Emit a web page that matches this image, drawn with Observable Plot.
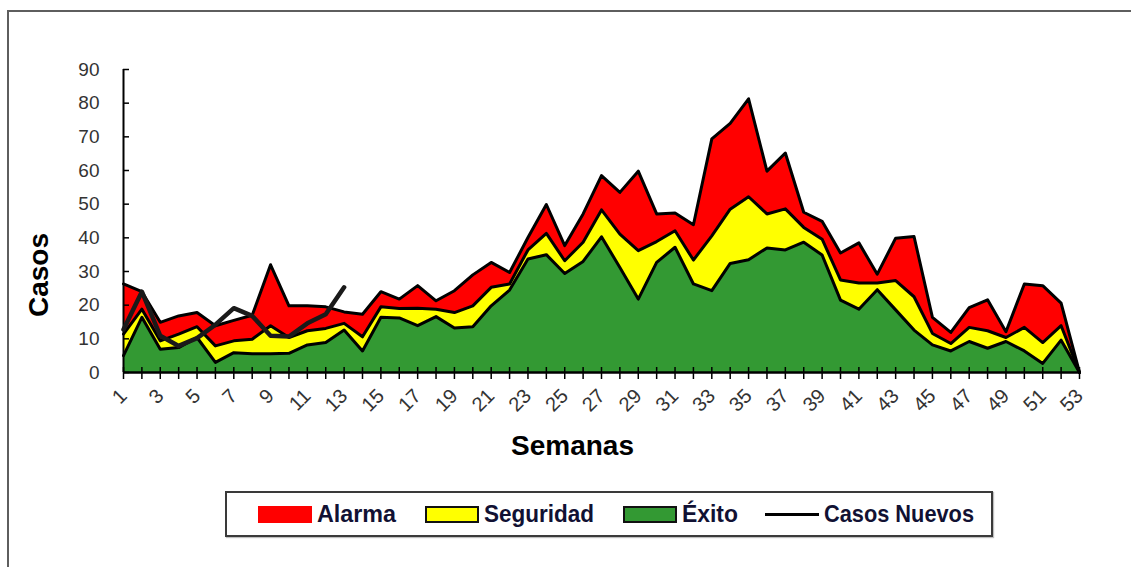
<!DOCTYPE html>
<html>
<head>
<meta charset="utf-8">
<script src="https://cdn.jsdelivr.net/npm/d3@7"></script>
<script src="https://cdn.jsdelivr.net/npm/@observablehq/plot@0.6"></script>
<style>
  html, body { margin: 0; padding: 0; background: #fff; }
  #wrap { position: relative; width: 1131px; height: 567px; overflow: hidden; background: #fff; }
  #frame { position: absolute; left: 7px; top: 10px; width: 1140px; height: 580px;
           border-left: 2px solid #5e5e5e; border-top: 2px solid #5e5e5e; box-sizing: border-box; }
  #chart { position: absolute; left: 0; top: 0; }
  #legend { position: absolute; left: 225px; top: 491px; width: 768px; height: 46px;
            border: 2px solid #3a3a3a; box-sizing: border-box; background: #fff;
            box-shadow: 1px 1px 1px rgba(0,0,0,0.25);
            font-family: "Liberation Sans", Arial, sans-serif;
            font-weight: bold; font-size: 24px; color: #111133; }
  .item { position: absolute; top: 0; height: 42px; display: flex; align-items: center; white-space: nowrap; }
  .sw { width: 54px; height: 17px; box-sizing: border-box; margin-right: 5px; flex: none; }
  .ln { width: 54px; height: 3px; background: #000; margin-right: 5px; flex: none; }
  .item span { display: inline-block; transform-origin: 0 50%; }
</style>
</head>
<body>
<div id="wrap">
  <div id="frame"></div>
  <div id="chart"></div>
  <div id="legend"></div>
</div>
<script>
const weeks = d3.range(1, 54);
const alarma = [26.3, 24, 14.9, 16.8, 17.8, 13.9, 15.5, 17, 32, 19.8,
  19.8, 19.5, 18, 17.3, 24, 21.8, 25.8, 21.3, 24.3, 29,
  32.7, 29.7, 40.1, 49.9, 37.7, 47.1, 58.5, 53.5, 59.8, 47.1,
  47.4, 43.9, 69.4, 74, 81.3, 59.8, 65.2, 47.6, 44.9, 35.5,
  38.5, 29.2, 39.9, 40.4, 16.4, 11.9, 19.3, 21.6, 12.1, 26.3,
  25.8, 20.6, 0];
const seguridad = [11.4, 18.8, 9.4, 11.4, 13.6, 7.9, 9.4, 9.9, 13.9, 10.4,
  12.4, 13.1, 14.6, 10.6, 19.5, 19, 19.1, 18.8, 17.8, 19.8,
  25.3, 26.3, 36.4, 41.3, 33.2, 38.7, 48.3, 41.1, 36.2, 38.9,
  42.1, 33.4, 40.6, 48.5, 52.2, 47.1, 48.6, 43.1, 39.6, 27.5,
  26.6, 26.6, 27.3, 22.5, 11.6, 8.6, 13.4, 12.4, 10.4, 13.4,
  8.9, 13.9, 0];
const exito = [5, 16.4, 6.9, 7.4, 10.4, 3, 5.9, 5.6, 5.6, 5.7,
  8.2, 8.9, 12.6, 6.4, 16.4, 16.2, 13.9, 16.6, 13.2, 13.6,
  19.8, 24.5, 33.7, 35, 29.4, 33, 40.3, 31.2, 21.8, 32.7,
  37.2, 26.3, 24.3, 32.4, 33.5, 37, 36.4, 38.7, 34.9, 21.5,
  18.8, 24.6, 18.6, 12.6, 8.2, 6.4, 9.2, 7.2, 9.2, 6.4,
  2.7, 9.6, 0];
const casosNuevos = [12.8, 24, 10.9, 7.9, 10.2, 14.2, 19.1, 16.8, 10.9, 10.7,
  14.6, 17.3, 25.3];
const yTicks = d3.range(0, 91, 10);
const xLabels = d3.range(1, 54, 2);

const rows = weeks.map((w, i) => ({week: w, alarma: alarma[i], seg: seguridad[i], exito: exito[i]}));
const casos = casosNuevos.map((v, i) => ({week: weeks[i], v}));

const RED = "#ff0000", YEL = "#ffff00", GRN = "#339933";

const chart = Plot.plot({
  width: 1131,
  height: 470,
  marginLeft: 123,
  marginRight: 52,
  marginTop: 69,
  marginBottom: 98,
  style: {fontFamily: "Liberation Sans, Arial, sans-serif", background: "transparent"},
  x: {type: "linear", domain: [1, 53]},
  y: {domain: [0, 90]},
  marks: [
    Plot.areaY(rows, {x: "week", y1: "seg", y2: "alarma", fill: RED}),
    Plot.areaY(rows, {x: "week", y1: "exito", y2: "seg", fill: YEL}),
    Plot.areaY(rows, {x: "week", y1: 0, y2: "exito", fill: GRN}),
    Plot.lineY(rows, {x: "week", y: "alarma", stroke: "#000", strokeWidth: 3, strokeLinejoin: "round"}),
    Plot.lineY(rows, {x: "week", y: "seg", stroke: "#000", strokeWidth: 3, strokeLinejoin: "round"}),
    Plot.lineY(rows, {x: "week", y: "exito", stroke: "#000", strokeWidth: 3, strokeLinejoin: "round"}),
    Plot.ruleY([0], {stroke: "#000", strokeWidth: 2.5}),
    Plot.ruleX([1], {stroke: "#000", strokeWidth: 2}),
    Plot.ruleX(weeks, {x: d => d, y1: 0, y2: 0, insetTop: -5, insetBottom: -7, stroke: "#000", strokeWidth: 1.5}),
    Plot.ruleY(yTicks, {y: d => d, x1: 1, x2: 1, insetRight: -6, stroke: "#000", strokeWidth: 1.5}),
    Plot.lineY(casos, {x: "week", y: "v", stroke: "#1a1a1a", strokeWidth: 4.5, strokeLinejoin: "round", strokeLinecap: "round"}),
    Plot.axisX({ticks: xLabels, tickSize: 0, tickPadding: 20, tickRotate: -45, tickFormat: d => String(d),
      fontSize: 20, fill: "#333", label: null}),
    Plot.axisY({ticks: yTicks, tickSize: 0, tickPadding: 24, fontSize: 19, fill: "#333", label: null}),
    Plot.text(["Casos"], {frameAnchor: "left", dx: -84, dy: 54, rotate: -90, textAnchor: "middle", fontSize: 28, fontWeight: "bold", fill: "#000"}),
    Plot.text(["Semanas"], {frameAnchor: "bottom", dx: -29, dy: 82, fontSize: 28, fontWeight: "bold", fill: "#000"})
  ]
});
document.getElementById("chart").appendChild(chart);

const legendItems = [
  {label: "Alarma", left: 31, type: "sw", fill: RED, border: "none", w: 79},
  {label: "Seguridad", left: 198, type: "sw", fill: YEL, border: "2px solid #111", w: 110},
  {label: "Éxito", left: 396, type: "sw", fill: GRN, border: "2px solid #111", w: 56},
  {label: "Casos Nuevos", left: 538, type: "ln", w: 150}
];
const leg = d3.select("#legend");
legendItems.forEach(it => {
  const d = leg.append("div").attr("class", "item").style("left", it.left + "px");
  if (it.type === "sw") {
    d.append("div").attr("class", "sw").style("background", it.fill).style("border", it.border);
  } else {
    d.append("div").attr("class", "ln");
  }
  const s = d.append("span").text(it.label);
  const mw = s.node().getBoundingClientRect().width;
  if (mw > 0) s.style("transform", `scaleX(${it.w / mw})`);
});
</script>
</body>
</html>
